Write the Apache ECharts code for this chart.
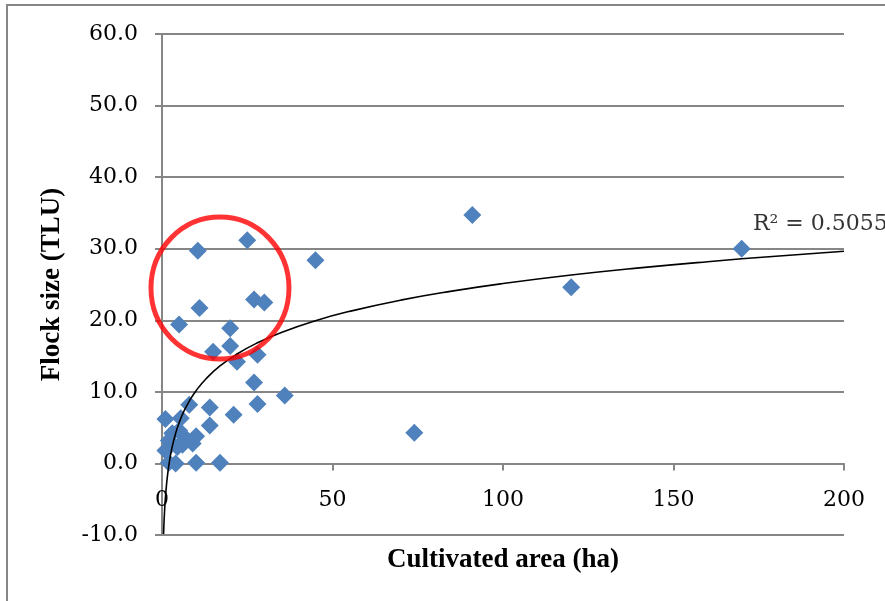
<!DOCTYPE html>
<html>
<head>
<meta charset="utf-8">
<script src="https://cdn.jsdelivr.net/npm/echarts@6/dist/echarts.min.js"></script>
<style>
  html, body { margin: 0; padding: 0; background: #fff; }
  #chart { width: 885px; height: 601px; }
</style>
</head>
<body>
<div id="chart"></div>
<script>
  // Data: cultivated area (ha) vs flock size (TLU)
  var areaHa = [91, 170, 120, 45, 25, 10.5, 27, 30, 11, 5, 20, 20, 15, 28, 22,
    27, 36, 28, 21, 14, 8, 14, 1, 5, 74, 10, 9, 2, 1, 4.5, 7, 2, 4, 10, 17, 6, 3, 5.5];
  var flockTlu = [34.7, 30.0, 24.6, 28.4, 31.2, 29.7, 22.9, 22.5, 21.7, 19.4, 18.9, 16.4, 15.6, 15.2, 14.2,
    11.3, 9.5, 8.3, 6.8, 7.8, 8.2, 5.3, 6.2, 4.6, 4.3, 3.8, 2.8, 3.2, 1.8, 2.3, 3.5, 0.1, 0.0, 0.1, 0.1, 2.6, 4.2, 6.3];

  // Excel log trendline: y = a ln(x) + b
  var trendA = 6.5;
  var trendB = -4.8;
  var trendX = [0.46, 0.5, 0.6, 0.8, 1, 1.3, 1.7, 2.2, 3, 4, 5, 6.5, 8, 10, 13, 17, 22, 28, 35, 45,
    55, 70, 85, 100, 120, 140, 160, 180, 200];
  var r2Text = 'R\u00b2 = 0.5055';

  // Red highlight circle (data coords of its centre)
  var circleCentre = [17, 24.5];

  var yTicks = { min: -10, max: 60, step: 10 };
  var xTicks = { min: 0, max: 200, step: 50 };

  var points = areaHa.map(function (x, i) { return [x, flockTlu[i]]; });
  var trendData = trendX.map(function (x) { return [x, trendA * Math.log(x) + trendB]; });

  var grey = '#868686';
  var serif = 'DejaVu Serif';

  var chart = echarts.init(document.getElementById('chart'));
  var option = {
    animation: false,
    backgroundColor: '#fff',
    graphic: [{
      type: 'rect',
      shape: { x: 7, y: 5, width: 1000, height: 800 },
      style: { fill: 'none', stroke: grey, lineWidth: 2 },
      silent: true
    }],
    grid: { left: 162, right: 41, top: 34, bottom: 66, outerBoundsMode: 'none', containLabel: false },
    xAxis: {
      type: 'value',
      min: xTicks.min, max: xTicks.max, interval: xTicks.step,
      name: 'Cultivated area (ha)',
      nameLocation: 'middle',
      nameGap: 12,
      nameTextStyle: { fontFamily: 'Liberation Serif', fontWeight: 'bold', fontSize: 27, color: '#000' },
      axisLine: { onZero: true, lineStyle: { color: grey, width: 2 } },
      axisTick: { show: true, length: 7, lineStyle: { color: grey, width: 2 } },
      axisLabel: { fontFamily: serif, fontSize: 22, color: '#000', margin: -46 },
      splitLine: { show: false }
    },
    yAxis: {
      type: 'value',
      min: yTicks.min, max: yTicks.max, interval: yTicks.step,
      name: 'Flock size (TLU)',
      nameLocation: 'middle',
      nameGap: 96,
      nameTextStyle: { fontFamily: 'Liberation Serif', fontWeight: 'bold', fontSize: 27, color: '#000' },
      axisLine: { show: true, onZero: false, lineStyle: { color: grey, width: 2 } },
      axisTick: { show: true, length: 7, lineStyle: { color: grey, width: 2 } },
      axisLabel: {
        fontFamily: serif, fontSize: 22, color: '#000', margin: 24,
        formatter: function (v) { return v.toFixed(1); }
      },
      splitLine: { show: true, lineStyle: { color: grey, width: 2 } }
    },
    series: [{
      type: 'scatter',
      data: points,
      symbol: 'diamond',
      symbolSize: 18,
      itemStyle: { color: '#4F81BD', opacity: 1 },
      z: 3
    }, {
      type: 'line',
      data: trendData,
      showSymbol: false,
      smooth: true,
      lineStyle: { color: '#000', width: 1.6 },
      z: 4
    }, {
      type: 'scatter',
      data: [[173.3, 33.4]],
      symbolSize: 0,
      label: {
        show: true, position: 'right', distance: 0, formatter: r2Text,
        fontFamily: serif, fontSize: 22, color: '#000'
      },
      z: 5
    }, {
      type: 'scatter',
      data: [circleCentre],
      symbol: 'circle',
      symbolSize: [138, 142],
      itemStyle: { color: 'rgba(0,0,0,0)', borderColor: '#ff0000', borderWidth: 5 },
      z: 6
    }]
  };
  chart.setOption(option);
</script>
</body>
</html>
